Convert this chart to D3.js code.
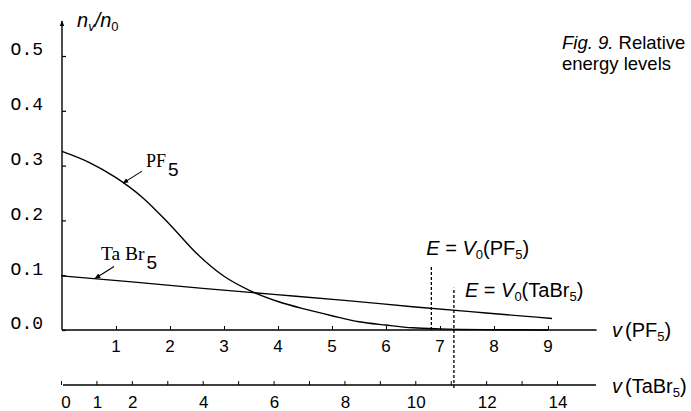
<!DOCTYPE html>
<html lang="en">
<meta charset="utf-8">
<head>
    <title>Fig. 9 - relative populations</title>
    <script src="https://d3js.org/d3.v7.min.js"></script>
    <style>
        body { margin: 0; background: #fff; }
        svg { display: block; }
        .sans { font-family: "Liberation Sans", Arial, sans-serif; }
        .mono { font-family: "Liberation Mono", "DejaVu Sans Mono", monospace; }
        .serif { font-family: "Liberation Serif", "DejaVu Serif", serif; }
    </style>
</head>
<body>
<div id="chart"></div>
<script>
    // values
    const pfV = [0, 0.5, 1, 1.5, 2, 2.5, 3, 3.5, 4, 4.5, 5, 5.5, 6, 6.5, 7, 8, 9];
    const pfPop = [0.326, 0.306, 0.278, 0.241, 0.192, 0.139, 0.098, 0.071, 0.052, 0.038, 0.026, 0.015, 0.009, 0.004, 0.002, 0.0005, 0];
    const taV = [0, 2, 4, 6, 8, 10, 12, 13.86];
    const taPop = [0.099, 0.088, 0.076, 0.065, 0.054, 0.042, 0.031, 0.021];

    const yTicks = [0.0, 0.1, 0.2, 0.3, 0.4, 0.5];
    const pfTicks = [1, 2, 3, 4, 5, 6, 7, 8, 9];
    const taTicks = [0, 1, 2, 3, 4, 5, 6, 7, 8, 9, 10, 11, 12, 13, 14];
    const taTickLabels = [0, 1, 2, 4, 6, 8, 10, 12, 14];

    const v0PF5 = 6.84;     // E = V0(PF5) on the v(PF5) scale
    const v0TaBr5 = 11.09;  // E = V0(TaBr5) on the v(TaBr5) scale

    const W = 691, H = 411;

    let x1 = d3.scaleLinear().domain([0, 9]).range([62, 548]);   // v(PF5)
    let x2 = d3.scaleLinear().domain([0, 14]).range([61, 557]);  // v(TaBr5)
    let y = d3.scaleLinear().domain([0, 0.5]).range([330, 56]);
    let taAxisY = 385;

    let svg = d3.select("#chart").append("svg")
        .attr("width", W)
        .attr("height", H);

    svg.append("defs").append("marker")
        .attr("id", "arr")
        .attr("viewBox", "0 0 10 10")
        .attr("refX", 9).attr("refY", 5)
        .attr("markerWidth", 6).attr("markerHeight", 6)
        .attr("markerUnits", "userSpaceOnUse")
        .attr("orient", "auto")
        .append("path").attr("d", "M0,1 L10,5 L0,9 z").attr("fill", "#000");

    // y axis with arrow
    svg.append("line")
        .attr("x1", x1(0)).attr("x2", x1(0))
        .attr("y1", y(0)).attr("y2", 21)
        .attr("stroke", "#000").attr("stroke-width", 1.4)
        .attr("marker-end", "url(#arr)");

    let yAxis = d3.axisRight(y).tickValues(yTicks).tickSize(4).tickFormat("");
    let gy = svg.append("g").attr("transform", "translate(" + x1(0) + ",0)").call(yAxis);
    gy.select(".domain").remove();
    gy.selectAll("line").attr("stroke-width", 1.2);

    svg.append("g").selectAll("text")
        .data(yTicks).enter().append("text")
        .attr("class", "mono")
        .attr("x", 43)
        .attr("y", d => y(d) - 7)
        .attr("dy", "0.35em")
        .attr("text-anchor", "end")
        .attr("font-size", 18)
        .text(d => d.toFixed(1).replace("0.", "O."));

    // v(PF5) axis
    svg.append("line")
        .attr("x1", x1(0)).attr("x2", x1(9.9))
        .attr("y1", y(0)).attr("y2", y(0))
        .attr("stroke", "#000").attr("stroke-width", 1.3);
    let pfAxis = d3.axisTop(x1).tickValues(pfTicks).tickSize(4).tickFormat("");
    let gpf = svg.append("g").attr("transform", "translate(0," + y(0) + ")").call(pfAxis);
    gpf.select(".domain").remove();
    svg.append("g").selectAll("text")
        .data(pfTicks).enter().append("text")
        .attr("class", "sans")
        .attr("x", d => x1(d))
        .attr("y", y(0) + 16)
        .attr("dy", "0.35em")
        .attr("text-anchor", "middle")
        .attr("font-size", 17)
        .text(d => d);

    // v(TaBr5) axis
    svg.append("line")
        .attr("x1", x2(0) + 2).attr("x2", x2(15.1))
        .attr("y1", taAxisY).attr("y2", taAxisY)
        .attr("stroke", "#000").attr("stroke-width", 1.3);
    let taAxis = d3.axisTop(x2).tickValues(taTicks).tickSize(4).tickFormat("");
    let gta = svg.append("g").attr("transform", "translate(0," + taAxisY + ")").call(taAxis);
    gta.select(".domain").remove();
    svg.append("g").selectAll("text")
        .data(taTickLabels).enter().append("text")
        .attr("class", "sans")
        .attr("x", d => x2(d) + (d === 0 ? 5 : 1))
        .attr("y", taAxisY + 17)
        .attr("dy", "0.35em")
        .attr("text-anchor", "middle")
        .attr("font-size", 17)
        .text(d => d);

    // curves
    let pfLine = d3.line().x((d, i) => x1(pfV[i])).y(d => y(d)).curve(d3.curveMonotoneX);
    let taLine = d3.line().x((d, i) => x2(taV[i])).y(d => y(d)).curve(d3.curveMonotoneX);
    svg.append("path").attr("d", pfLine(pfPop))
        .attr("fill", "none").attr("stroke", "#000").attr("stroke-width", 1.4);
    svg.append("path").attr("d", taLine(taPop))
        .attr("fill", "none").attr("stroke", "#000").attr("stroke-width", 1.3);

    // dotted E = V0 markers
    svg.append("line")
        .attr("x1", x1(v0PF5)).attr("x2", x1(v0PF5))
        .attr("y1", y(0)).attr("y2", y(0.117))
        .attr("stroke", "#000").attr("stroke-width", 1.3)
        .attr("stroke-dasharray", "3,2");
    svg.append("line")
        .attr("x1", x2(v0TaBr5)).attr("x2", x2(v0TaBr5))
        .attr("y1", taAxisY + 3).attr("y2", y(0.077))
        .attr("stroke", "#000").attr("stroke-width", 1.3)
        .attr("stroke-dasharray", "3,2");

    function eLabel(x, yy, name) {
        let t = svg.append("text").attr("class", "sans")
            .attr("x", x).attr("y", yy).attr("font-size", 20);
        t.append("tspan").attr("font-style", "italic").text("E");
        t.append("tspan").text(" = ");
        t.append("tspan").attr("font-style", "italic").text("V");
        t.append("tspan").attr("font-size", 13).attr("dy", 4).text("0");
        t.append("tspan").attr("dy", -4).text("(" + name);
        t.append("tspan").attr("font-size", 13).attr("dy", 4).text("5");
        t.append("tspan").attr("dy", -4).text(")");
    }
    eLabel(x1(v0PF5) - 5, 255, "PF");
    eLabel(x2(v0TaBr5) + 11, 297, "TaBr");

    // curve labels with arrows
    function curveLabel(tx, ty, name, lx, ly, size) {
        svg.append("line")
            .attr("x1", tx + 19).attr("y1", ty - 12)
            .attr("x2", tx).attr("y2", ty)
            .attr("stroke", "#000").attr("stroke-width", 1.1)
            .attr("marker-end", "url(#arr)");
        let t = svg.append("text").attr("class", "serif")
            .attr("x", lx).attr("y", ly).attr("font-size", size);
        t.append("tspan").text(name);
        t.append("tspan").attr("class", "sans").attr("font-size", 19).attr("dx", 2).attr("dy", 9).text("5");
    }
    curveLabel(x1(1.13), y(0.268), "PF", 146, 167, 18);
    curveLabel(x2(0.96), y(0.094), "Ta Br", 101, 260, 19.5);

    // axis titles
    let yt = svg.append("text").attr("class", "sans")
        .attr("x", 77).attr("y", 27).attr("font-size", 20).attr("font-style", "italic");
    yt.append("tspan").text("n");
    yt.append("tspan").attr("font-size", 13).attr("dy", 4).text("v");
    yt.append("tspan").attr("dy", -4).text("/n");
    yt.append("tspan").attr("font-size", 13).attr("dy", 4).attr("font-style", "normal").text("0");

    function vTitle(x, yy, name) {
        let t = svg.append("text").attr("class", "sans")
            .attr("x", x).attr("y", yy).attr("font-size", 20);
        t.append("tspan").attr("font-style", "italic").text("v");
        t.append("tspan").attr("dx", 3).text("(" + name);
        t.append("tspan").attr("font-size", 13).attr("dy", 4).text("5");
        t.append("tspan").attr("dy", -4).text(")");
    }
    vTitle(612, 337, "PF");
    vTitle(612, 393, "TaBr");

    // caption (cut off at the right edge as in the source)
    let cap = svg.append("text").attr("class", "sans")
        .attr("x", 562).attr("y", 49).attr("font-size", 18.5);
    cap.append("tspan").attr("font-style", "italic").text("Fig. 9.");
    cap.append("tspan").text(" Relative");
    svg.append("text").attr("class", "sans")
        .attr("x", 562).attr("y", 70).attr("font-size", 18.5)
        .text("energy levels");
</script>
</body>
</html>
